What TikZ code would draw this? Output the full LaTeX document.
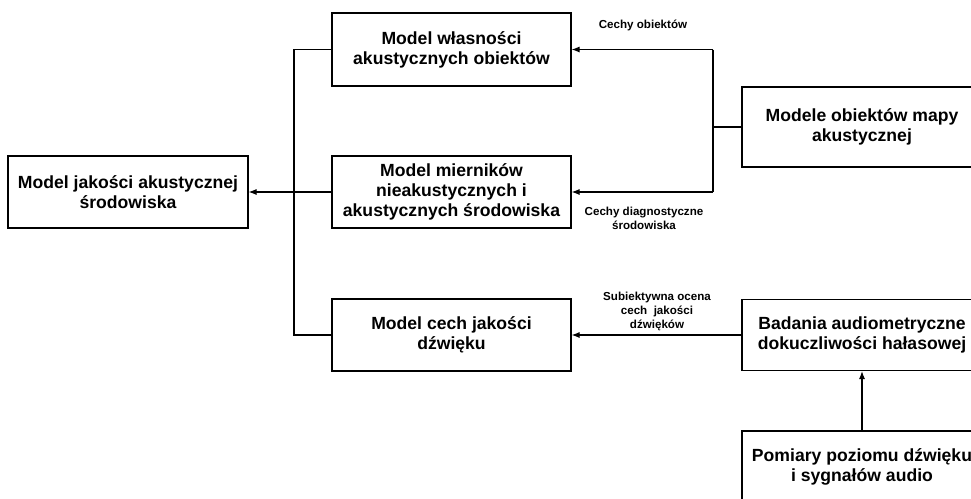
\documentclass[tikz,border=0pt]{standalone}
\usepackage{fontspec}
\setmainfont{Liberation Sans}
\usetikzlibrary{arrows.meta}
\tikzset{
  block/.style={draw, line width=1.1pt, minimum width=239pt, minimum height=72pt,
    align=center, inner sep=1pt, font=\bfseries\fontsize{17.6}{20}\selectfont},
  lbl/.style={align=center, inner sep=1pt, font=\bfseries\fontsize{11.6}{14}\selectfont},
  conn/.style={line width=1.1pt},
  arr/.style={conn, -{Latex[length=8pt,width=6pt]}}
}
\begin{document}
\begin{tikzpicture}[x=1pt,y=-1pt]
  \clip (0,0) rectangle (971,498);
  \node[block, minimum width=240pt] (jakosc) at (128,192) {Model jakości akustycznej\\środowiska};
  \node[block, minimum height=73pt] (wlasnosci) at (451.5,49.5) {Model własności\\akustycznych obiektów};
  \node[block] (mierniki) at (451.5,192) {Model mierników\\nieakustycznych i\\akustycznych środowiska};
  \node[block] (cechy) at (451.5,335) {Model cech jakości\\dźwięku};
  \node[block, minimum width=240pt, minimum height=80pt] (modele) at (862,127) {Modele obiektów mapy\\akustycznej};
  \node[block, minimum width=240pt, minimum height=71pt] (badania) at (862,335) {Badania audiometryczne\\dokuczliwości hałasowej};
  \node[block, minimum width=240pt] (pomiary) at (862,467) {Pomiary poziomu dźwięku\\i sygnałów audio};

  \coordinate (lt) at (294,49.5);
  \coordinate (lb) at (294,335);
  \coordinate (rt) at (713,49.5);
  \coordinate (rb) at (713,192);

  \draw[conn] (wlasnosci.west) -- (lt) -- (lb) -- (cechy.west);
  \draw[arr] (mierniki.west) -- (jakosc.east);
  \draw[conn] (rt) -- (rb);
  \draw[conn] (modele.west) -- (modele.west -| rt);
  \draw[arr] (rt) -- (wlasnosci.east);
  \draw[arr] (rb) -- (mierniki.east);
  \draw[arr] (badania.west) -- (cechy.east);
  \draw[arr] (pomiary.north) -- (badania.south);

  \node[lbl] (l-obiekty) at (643,25) {Cechy obiektów};
  \node[lbl] (l-diagn) at (644,218) {Cechy diagnostyczne\\środowiska};
  \node[lbl] (l-subiekt) at (657,311) {Subiektywna ocena\\cech~~jakości\\dźwięków};
\end{tikzpicture}
\end{document}
